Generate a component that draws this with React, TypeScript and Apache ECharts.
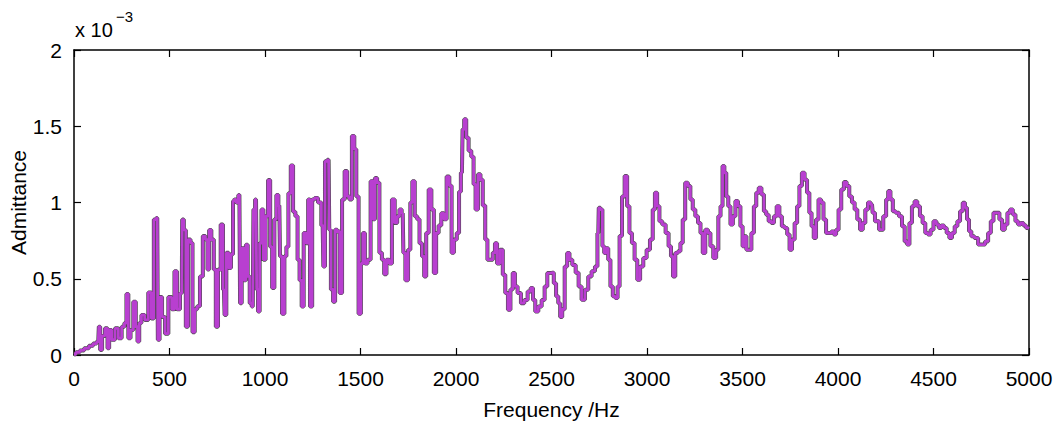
import React, { useEffect, useRef } from "react";
import * as echarts from "echarts";

// Frequency (Hz)
const freqHz: number[] = [
  0, 20, 40, 66, 90, 110, 127, 133, 141, 153, 171, 180, 188, 206, 223, 241, 258, 270, 279, 290, 302, 319, 328, 337, 346, 360, 380, 398, 412, 424, 436, 442, 454, 468, 485, 503, 520, 532, 546, 564, 569, 581, 590, 604, 616, 625, 639, 651, 668, 681, 695, 703, 712, 726, 738, 747, 761, 775, 785, 792, 803, 817, 827, 838,
  843, 855, 866, 873, 883, 896, 904, 915, 925, 936, 943, 953, 960, 967, 977, 986, 997, 1009, 1023, 1031, 1044, 1054, 1065, 1075, 1082, 1096, 1107, 1117, 1128, 1142, 1152, 1166, 1175, 1187, 1197, 1208, 1222, 1230, 1241, 1253, 1267, 1288, 1302, 1309, 1319, 1333, 1340, 1350, 1363, 1371, 1385, 1397, 1410, 1424, 1436, 1448, 1462, 1473, 1483, 1497, 1507, 1518, 1528, 1546, 1560, 1570, 1581, 1593, 1605, 1619, 1629, 1643, 1657,
  1672, 1686, 1698, 1710, 1721, 1728, 1742, 1756, 1766, 1777, 1791, 1803, 1815, 1829, 1838, 1850, 1864, 1878, 1890, 1902, 1916, 1930, 1944, 1958, 1972, 1982, 1996, 2012, 2020, 2031, 2038, 2048, 2059, 2073, 2087, 2097, 2108, 2122, 2134, 2146, 2160, 2169, 2186, 2199, 2209, 2221, 2239, 2251, 2265, 2279, 2291, 2303, 2314, 2331, 2349, 2366, 2384, 2398, 2408, 2422, 2440, 2457, 2471, 2485,
  2506, 2518, 2530, 2541, 2550, 2562, 2576, 2588, 2600, 2618, 2635, 2649, 2666, 2684, 2701, 2719, 2736, 2745, 2750, 2762, 2771, 2781, 2792, 2802, 2815, 2827, 2841, 2851, 2862, 2876, 2890, 2902, 2914, 2928, 2942, 2956, 2972, 2989, 3007, 3024, 3036, 3047, 3059, 3071, 3089, 3106, 3120, 3131, 3141, 3155, 3169, 3181, 3193, 3207, 3221, 3233, 3246, 3260, 3274, 3286, 3298, 3312, 3326, 3338,
  3356, 3368, 3379, 3391, 3400, 3410, 3420, 3431, 3443, 3456, 3470, 3482, 3496, 3505, 3515, 3526, 3540, 3553, 3566, 3578, 3592, 3606, 3618, 3630, 3644, 3658, 3671, 3687, 3699, 3713, 3727, 3741, 3752, 3766, 3780, 3792, 3804, 3818, 3832, 3844, 3856, 3867, 3879, 3891, 3905, 3917, 3931, 3944, 3958, 3972, 3984, 3996, 4010, 4024, 4038, 4052, 4066, 4080, 4094, 4108, 4123, 4136, 4150, 4164,
  4178, 4185, 4202, 4228, 4246, 4258, 4268, 4281, 4293, 4310, 4328, 4342, 4356, 4368, 4380, 4394, 4408, 4422, 4436, 4450, 4464, 4478, 4492, 4508, 4522, 4534, 4548, 4562, 4576, 4590, 4604, 4618, 4632, 4646, 4660, 4670, 4681, 4691, 4705, 4723, 4744, 4761, 4779, 4793, 4807, 4821, 4838, 4852, 4866, 4880, 4894, 4908, 4922, 4936, 4950, 4964, 4978, 4992, 5000,
];

// Admittance (x 10^-3)
const admittance: number[] = [
  0.005, 0.018, 0.03, 0.044, 0.06, 0.075, 0.088, 0.186, 0.033, 0.125, 0.175, 0.044, 0.164, 0.1, 0.175, 0.11, 0.186, 0.21, 0.4, 0.11, 0.164, 0.35, 0.186, 0.088, 0.21, 0.263, 0.23, 0.41, 0.24, 0.888, 0.899, 0.1, 0.38, 0.25, 0.14, 0.38, 0.3, 0.55, 0.3, 0.405, 0.888, 0.82, 0.186, 0.757, 0.735, 0.15, 0.3, 0.32, 0.515, 0.78, 0.757, 0.56, 0.82, 0.757, 0.56, 0.186, 0.56, 0.855, 0.43, 0.263, 0.67, 0.57, 0.66, 1.01,
  1.02, 1.0, 1.05, 0.34, 0.7, 0.49, 0.723, 0.515, 0.34, 0.318, 0.954, 1.02, 0.43, 0.285, 0.733, 0.954, 0.625, 0.91, 1.147, 0.71, 0.44, 0.89, 1.05, 0.98, 0.647, 0.27, 0.647, 0.71, 1.06, 1.243, 0.94, 0.91, 0.625, 0.49, 0.318, 0.8, 0.733, 1.02, 0.318, 1.02, 1.03, 1.0, 0.85, 0.58, 1.27, 1.28, 0.822, 0.43, 0.35, 0.822, 0.81, 0.406, 1.02, 1.206, 1.04, 1.02, 1.436, 1.35, 1.04, 0.27, 0.6, 0.8, 0.6, 0.625, 1.14, 0.89, 1.16, 1.13, 0.67, 0.625, 0.53, 0.625, 0.6,
  1.02, 0.866, 0.91, 0.954, 0.93, 0.67, 0.49, 0.69, 1.0, 1.14, 0.91, 0.89, 0.733, 0.647, 0.515, 0.8, 1.086, 0.954, 0.537, 0.8, 0.85, 0.93, 0.89, 1.17, 1.11, 0.67, 0.757, 0.8, 1.07, 1.195, 1.48, 1.546, 1.425, 1.34, 1.3, 1.12, 0.954, 1.185, 1.15, 0.98, 0.757, 0.625, 0.625, 0.67, 0.733, 0.6, 0.69, 0.526, 0.406, 0.296, 0.43, 0.537, 0.45, 0.406, 0.34, 0.36, 0.417, 0.44, 0.36, 0.285, 0.318, 0.36, 0.45, 0.537,
  0.54, 0.47, 0.385, 0.34, 0.25, 0.3, 0.58, 0.669, 0.625, 0.59, 0.54, 0.45, 0.362, 0.428, 0.515, 0.55, 0.58, 0.8, 0.965, 0.954, 0.713, 0.669, 0.7, 0.625, 0.45, 0.385, 0.373, 0.45, 0.78, 1.04, 1.173, 0.976, 0.8, 0.735, 0.625, 0.493, 0.58, 0.636, 0.69, 0.757, 0.954, 1.064, 0.976, 0.877, 0.855, 0.8, 0.713, 0.647, 0.515, 0.669, 0.68, 0.735, 0.888, 1.13, 1.108, 1.02, 0.954, 0.91, 0.866, 0.8, 0.669, 0.822, 0.8, 0.713,
  0.636, 0.69, 0.91, 0.976, 1.24, 1.195, 1.04, 0.976, 0.855, 0.91, 1.01, 0.976, 0.844, 0.713, 0.778, 0.69, 0.69, 0.8, 0.976, 1.064, 1.097, 1.053, 0.943, 0.92, 0.877, 0.866, 0.91, 0.976, 0.91, 0.844, 0.833, 0.79, 0.69, 0.757, 0.866, 0.976, 1.108, 1.195, 1.15, 1.064, 0.932, 0.844, 0.768, 0.888, 1.02, 1.0, 0.888, 0.8, 0.8, 0.81, 0.79, 0.822, 0.954, 1.086, 1.134, 1.108, 1.04, 1.0, 0.954, 0.888, 0.822, 0.866, 0.954, 1.0,
  0.987, 0.932, 0.877, 0.822, 0.91, 1.02, 1.075, 1.02, 0.943, 0.932, 0.91, 0.844, 0.745, 0.724, 0.866, 0.976, 1.008, 0.976, 0.91, 0.866, 0.8, 0.79, 0.822, 0.877, 0.855, 0.833, 0.85, 0.833, 0.8, 0.768, 0.8, 0.844, 0.877, 0.943, 0.998, 0.965, 0.888, 0.811, 0.778, 0.768, 0.724, 0.724, 0.745, 0.8, 0.877, 0.932, 0.932, 0.888, 0.822, 0.855, 0.932, 0.954, 0.921, 0.877, 0.855, 0.866, 0.85, 0.833, 0.83,
];

const xTicks = { min: 0, max: 5000, interval: 500 };
const yTicks = { min: 0, max: 2, interval: 0.5 };
const xTitle = "Frequency /Hz";
const yTitle = "Admittance";
const exponentBase = "x 10";
const exponentPower = "\u22123";

const FONT = "Liberation Sans, Arial, Helvetica, sans-serif";

export default function App() {
  const ref = useRef<HTMLDivElement>(null);
  useEffect(() => {
    if (!ref.current) return;
    const chart = echarts.init(ref.current, undefined, { renderer: "svg" });
    const data = freqHz.map((f, i) => [f, admittance[i]]);
    const axisLine = { show: true, onZero: false, lineStyle: { color: "#000", width: 1.5 } };
    const axisTick = { show: true, inside: true, length: 7, lineStyle: { color: "#000", width: 1.2 } };
    const labelStyle = { color: "#000", fontSize: 21, fontFamily: FONT, formatter: (v: number) => String(v) };
    chart.setOption({
      animation: false,
      backgroundColor: "#fff",
      grid: { left: 74, right: 27, top: 50, bottom: 73, containLabel: false, outerBoundsMode: "none" },
      xAxis: [
        {
          type: "value",
          position: "bottom",
          ...xTicks,
          axisLine,
          axisTick,
          splitLine: { show: false },
          axisLabel: { ...labelStyle, margin: 13 },
          name: xTitle,
          nameLocation: "middle",
          nameGap: 44,
          nameMoveOverlap: false,
          nameTextStyle: { color: "#000", fontSize: 21, fontFamily: FONT },
        },
        {
          type: "value",
          position: "top",
          ...xTicks,
          axisLine,
          axisTick,
          splitLine: { show: false },
          axisLabel: { show: false },
        },
      ],
      yAxis: [
        {
          type: "value",
          position: "left",
          ...yTicks,
          axisLine,
          axisTick,
          splitLine: { show: false },
          axisLabel: { ...labelStyle, margin: 12 },
          name: yTitle,
          nameLocation: "middle",
          nameGap: 45,
          nameRotate: 90,
          nameMoveOverlap: false,
          nameTextStyle: { color: "#000", fontSize: 21, fontFamily: FONT },
        },
        {
          type: "value",
          position: "right",
          ...yTicks,
          axisLine,
          axisTick,
          splitLine: { show: false },
          axisLabel: { show: false },
        },
      ],
      graphic: [
        { type: "text", left: 75, top: 20, style: { text: exponentBase, fill: "#000", font: `20px ${FONT}` } },
        { type: "text", left: 116, top: 9, style: { text: exponentPower, fill: "#000", font: `15px ${FONT}` } },
      ],
      series: [
        {
          type: "line",
          data,
          step: "middle",
          showSymbol: false,
          symbol: "none",
          lineStyle: { color: "#4a4a4a", width: 4 },
          z: 1,
        },
        {
          type: "line",
          data,
          step: "middle",
          showSymbol: false,
          symbol: "none",
          lineStyle: { color: "#B83FD0", width: 2.8 },
          z: 2,
        },
      ],
    });
    return () => chart.dispose();
  }, []);
  return <div ref={ref} style={{ position: "fixed", left: 0, top: 0, width: 1056, height: 428 }} />;
}
